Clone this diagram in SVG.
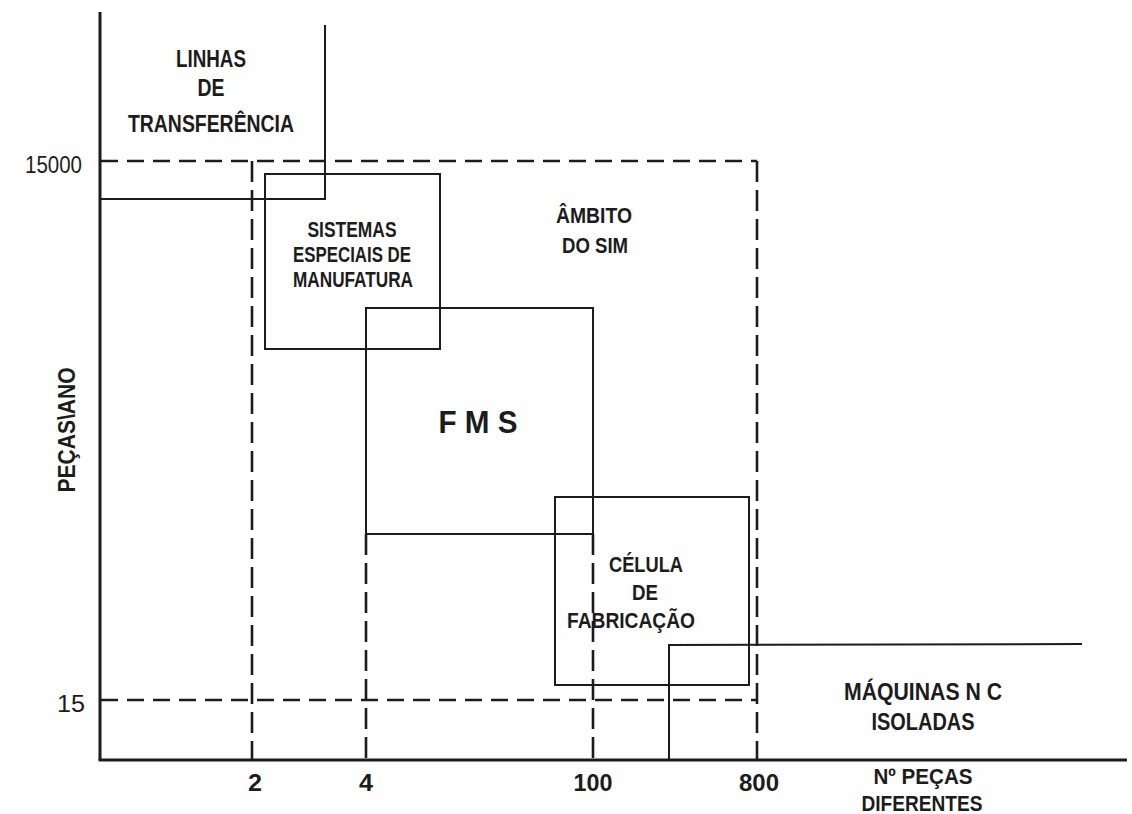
<svg xmlns="http://www.w3.org/2000/svg" width="1132" height="814" viewBox="0 0 1132 814">
<style>
.bg{fill:#fefefe}
.ax{stroke:#1c1c1c;stroke-width:3;fill:none}
.bx{stroke:#1c1c1c;stroke-width:2;fill:none}
.dh{stroke:#1c1c1c;stroke-width:2.6;fill:none;stroke-dasharray:17 9}
.dv{stroke:#1c1c1c;stroke-width:2.6;fill:none;stroke-dasharray:21 8}
text{font-family:"Liberation Sans",Arial,sans-serif;fill:#1c1c1c;text-anchor:middle;font-weight:bold}
.lb{font-size:24px}
.sm{font-size:22px}
.num{font-size:23px;font-weight:normal}
</style>
<rect class="bg" x="0" y="0" width="1132" height="814"/>
<g id="axes">
<line class="ax" x1="100" y1="12" x2="100" y2="760"/>
<line class="ax" x1="98.5" y1="760" x2="1127" y2="760"/>
<text class="num" x="82" y="173" style="text-anchor:end" textLength="57" lengthAdjust="spacingAndGlyphs">15000</text>
<text class="num" x="85" y="712" style="text-anchor:end" textLength="28" lengthAdjust="spacingAndGlyphs">15</text>
<text class="lb" x="255" y="791" textLength="14" lengthAdjust="spacingAndGlyphs">2</text>
<text class="lb" x="366" y="791" textLength="14" lengthAdjust="spacingAndGlyphs">4</text>
<text class="lb" x="593" y="791" textLength="39" lengthAdjust="spacingAndGlyphs">100</text>
<text class="lb" x="759" y="791" textLength="40" lengthAdjust="spacingAndGlyphs">800</text>
<text class="sm" x="923" y="784" textLength="99" lengthAdjust="spacingAndGlyphs">Nº PEÇAS</text>
<text class="sm" x="922" y="811" textLength="121" lengthAdjust="spacingAndGlyphs">DIFERENTES</text>
<text class="lb" transform="translate(75 430) rotate(-90)" x="0" y="0" textLength="125" lengthAdjust="spacingAndGlyphs">PEÇAS\ANO</text>
</g>
<g id="connectors">
<line class="dh" x1="101" y1="161" x2="757" y2="161"/>
<line class="dv" x1="757" y1="161" x2="757" y2="759"/>
<line class="dh" x1="101" y1="700" x2="757" y2="700"/>
<line class="dv" x1="252" y1="161" x2="252" y2="759"/>
<line class="dv" x1="366" y1="534" x2="366" y2="759"/>
<line class="dv" x1="593" y1="534" x2="593" y2="759"/>
</g>
<g id="linhas-transferencia">
<polyline class="bx" points="325,25 325,199 100,199"/>
<text class="lb" x="211" y="67" textLength="70" lengthAdjust="spacingAndGlyphs">LINHAS</text>
<text class="lb" x="211" y="96" textLength="27" lengthAdjust="spacingAndGlyphs">DE</text>
<text class="lb" x="211" y="132" textLength="166" lengthAdjust="spacingAndGlyphs">TRANSFERÊNCIA</text>
</g>
<g id="ambito-sim">
<text class="sm" x="594" y="223" textLength="76" lengthAdjust="spacingAndGlyphs">ÂMBITO</text>
<text class="sm" x="595" y="253" textLength="66" lengthAdjust="spacingAndGlyphs">DO SIM</text>
</g>
<g id="sistemas-especiais">
<rect class="bx" x="265" y="174" width="175" height="175"/>
<text class="sm" x="352" y="237" textLength="89" lengthAdjust="spacingAndGlyphs">SISTEMAS</text>
<text class="sm" x="352" y="262" textLength="118" lengthAdjust="spacingAndGlyphs">ESPECIAIS DE</text>
<text class="sm" x="353" y="287" textLength="120" lengthAdjust="spacingAndGlyphs">MANUFATURA</text>
</g>
<g id="fms">
<rect class="bx" x="366" y="308" width="227" height="226"/>
<text x="478" y="433" style="font-size:32px" textLength="79" lengthAdjust="spacingAndGlyphs">F M S</text>
</g>
<g id="celula-fabricacao">
<rect class="bx" x="555" y="497" width="194" height="188"/>
<text class="sm" x="646" y="572" textLength="74" lengthAdjust="spacingAndGlyphs">CÉLULA</text>
<text class="sm" x="645" y="600" textLength="26" lengthAdjust="spacingAndGlyphs">DE</text>
<text class="sm" x="631" y="628" textLength="128" lengthAdjust="spacingAndGlyphs">FABRICAÇÃO</text>
</g>
<g id="maquinas-nc">
<polyline class="bx" points="669,760 669,645 1082,644"/>
<text class="lb" x="923" y="700" textLength="158" lengthAdjust="spacingAndGlyphs">MÁQUINAS N C</text>
<text class="lb" x="923" y="730" textLength="103" lengthAdjust="spacingAndGlyphs">ISOLADAS</text>
</g>
</svg>
